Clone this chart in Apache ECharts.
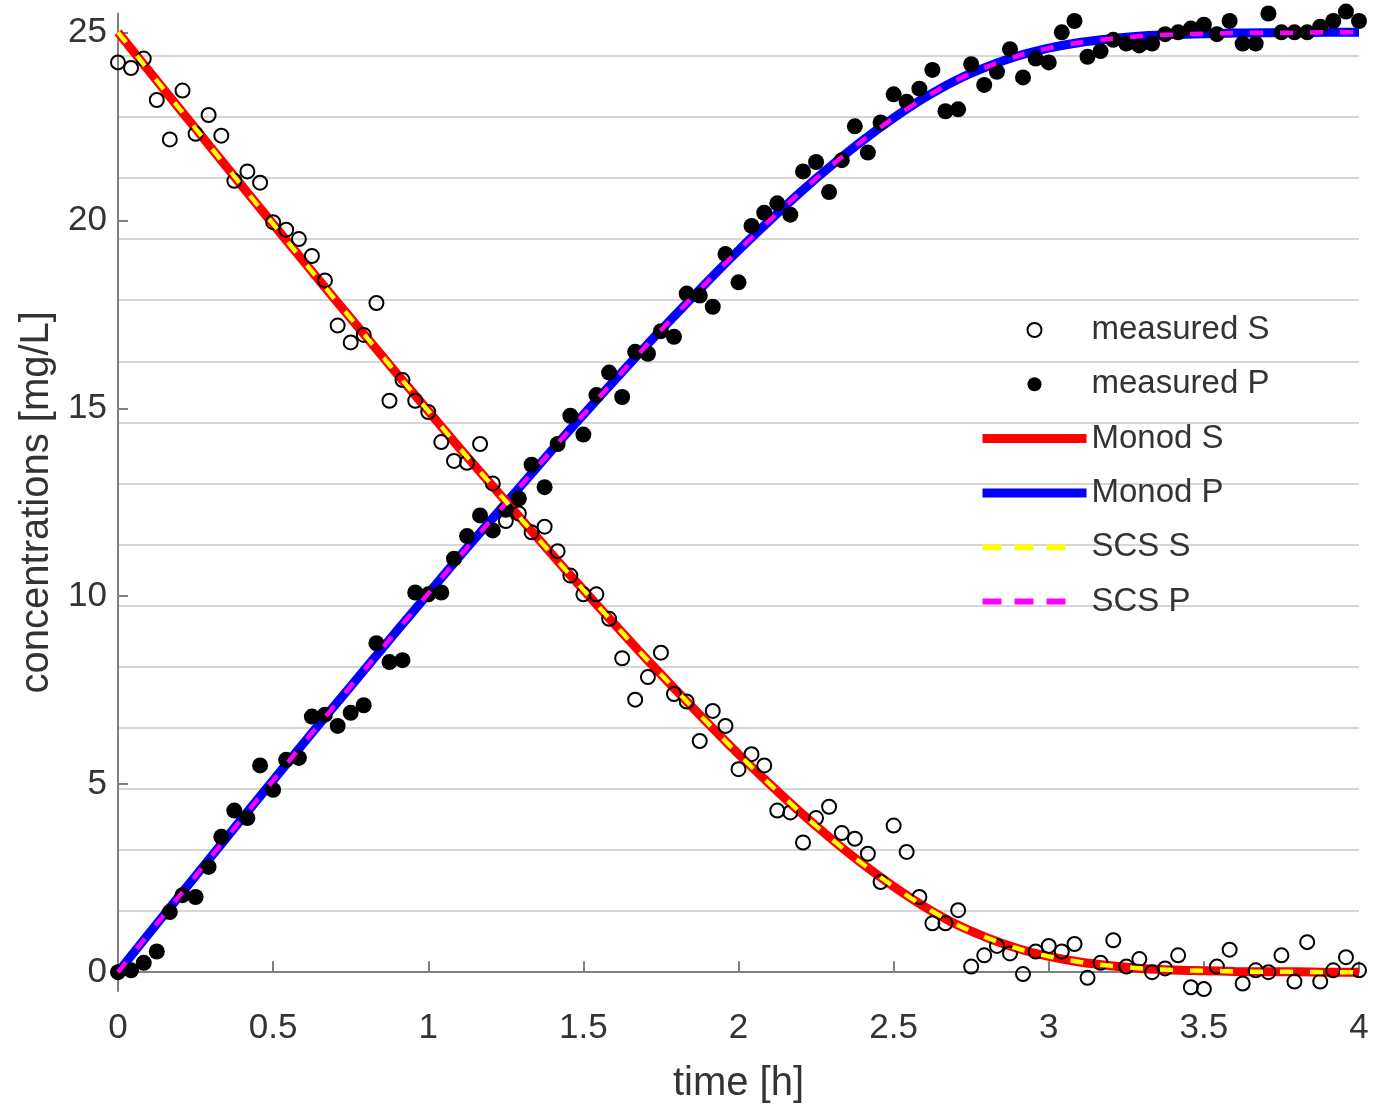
<!DOCTYPE html>
<html>
<head>
<meta charset="utf-8">
<script src="https://cdn.jsdelivr.net/npm/echarts@6/dist/echarts.min.js"></script>
<style>
html, body { margin: 0; padding: 0; background: #fff; }
#chart { width: 1373px; height: 1109px; }
</style>
</head>
<body>
<div id="chart"></div>
<script>
// measured samples, time in hours (every 2.5 min)
var tMeas = [0, 0.042, 0.083, 0.125, 0.167, 0.208, 0.25, 0.292, 0.333, 0.375, 0.417, 0.458,
    0.5, 0.542, 0.583, 0.625, 0.667, 0.708, 0.75, 0.792, 0.833, 0.875, 0.917, 0.958,
    1.0, 1.042, 1.083, 1.125, 1.167, 1.208, 1.25, 1.292, 1.333, 1.375, 1.417, 1.458,
    1.5, 1.542, 1.583, 1.625, 1.667, 1.708, 1.75, 1.792, 1.833, 1.875, 1.917, 1.958,
    2.0, 2.042, 2.083, 2.125, 2.167, 2.208, 2.25, 2.292, 2.333, 2.375, 2.417, 2.458,
    2.5, 2.542, 2.583, 2.625, 2.667, 2.708, 2.75, 2.792, 2.833, 2.875, 2.917, 2.958,
    3.0, 3.042, 3.083, 3.125, 3.167, 3.208, 3.25, 3.292, 3.333, 3.375, 3.417, 3.458,
    3.5, 3.542, 3.583, 3.625, 3.667, 3.708, 3.75, 3.792, 3.833, 3.875, 3.917, 3.958,
    4.0];

var sMeas = [24.2, 24.05, 24.3, 23.2, 22.15, 23.45, 22.3, 22.8, 22.25, 21.05, 21.3, 21.0,
    19.95, 19.75, 19.5, 19.05, 18.4, 17.2, 16.75, 16.95, 17.8, 15.2, 15.75, 15.2,
    14.9, 14.1, 13.6, 13.55, 14.05, 13.0, 12.0, 12.2, 11.7, 11.85, 11.2, 10.55,
    10.05, 10.05, 9.4, 8.35, 7.25, 7.85, 8.5, 7.4, 7.2, 6.15, 6.95, 6.55,
    5.4, 5.8, 5.5, 4.3, 4.25, 3.45, 4.1, 4.4, 3.7, 3.55, 3.15, 2.4,
    3.9, 3.2, 2.0, 1.3, 1.3, 1.65, 0.15, 0.45, 0.7, 0.5, -0.05, 0.55,
    0.7, 0.55, 0.75, -0.15, 0.25, 0.85, 0.15, 0.35, 0.0, 0.1, 0.45, -0.4,
    -0.45, 0.15, 0.6, -0.3, 0.05, 0.0, 0.45, -0.25, 0.8, -0.25, 0.05, 0.4,
    0.05];

var pMeas = [0.0, 0.05, 0.25, 0.55, 1.6, 2.05, 2.0, 2.8, 3.6, 4.3, 4.1, 5.5,
    4.85, 5.65, 5.7, 6.8, 6.85, 6.55, 6.9, 7.1, 8.75, 8.25, 8.3, 10.1,
    10.05, 10.1, 11.0, 11.6, 12.15, 11.75, 12.3, 12.6, 13.5, 12.9, 14.05, 14.8,
    14.3, 15.35, 15.95, 15.3, 16.5, 16.45, 17.05, 16.9, 18.05, 18.0, 17.7, 19.1,
    18.35, 19.85, 20.2, 20.45, 20.15, 21.3, 21.55, 20.75, 21.6, 22.5, 21.8, 22.6,
    23.35, 23.15, 23.5, 24.0, 22.9, 22.95, 24.15, 23.6, 23.95, 24.55, 23.8, 24.3,
    24.2, 25.0, 25.3, 24.35, 24.5, 24.8, 24.7, 24.65, 24.7, 24.95, 25.0, 25.1,
    25.2, 24.95, 25.3, 24.7, 24.7, 25.5, 25.0, 25.0, 25.0, 25.15, 25.3, 25.55,
    25.3];

// model curves
var tFit = [0, 0.1, 0.2, 0.3, 0.4, 0.5, 0.6, 0.7, 0.8, 0.9, 1.0, 1.1, 1.2, 1.3, 1.4,
    1.5, 1.6, 1.7, 1.8, 1.9, 2.0, 2.1, 2.2, 2.3, 2.4, 2.5, 2.6, 2.7, 2.8, 2.9,
    3.0, 3.1, 3.2, 3.3, 3.4, 3.5, 3.6, 3.7, 3.8, 3.9, 4.0];
var sMonod = [25, 23.97, 22.95, 21.93, 20.91, 19.9, 18.89, 17.89, 16.9, 15.91, 14.93,
    13.95, 13.0, 12.05, 11.1, 10.17, 9.26, 8.36, 7.49, 6.63, 5.8, 5.01, 4.25, 3.54,
    2.88, 2.28, 1.74, 1.28, 0.92, 0.63, 0.42, 0.27, 0.17, 0.1, 0.06, 0.04, 0.02,
    0.01, 0.01, 0.0, 0.0];
var pMonod = [0, 1.03, 2.05, 3.07, 4.09, 5.1, 6.11, 7.11, 8.1, 9.09, 10.07, 11.05,
    12.0, 12.95, 13.9, 14.83, 15.74, 16.64, 17.51, 18.37, 19.2, 19.99, 20.75, 21.46,
    22.12, 22.72, 23.26, 23.72, 24.08, 24.37, 24.58, 24.73, 24.83, 24.9, 24.94,
    24.96, 24.98, 24.99, 24.99, 25.0, 25.0];
var sScs = [25, 23.97, 22.95, 21.93, 20.91, 19.9, 18.89, 17.89, 16.9, 15.91, 14.93,
    13.95, 13.0, 12.05, 11.1, 10.17, 9.26, 8.36, 7.49, 6.63, 5.8, 5.01, 4.25, 3.54,
    2.88, 2.28, 1.74, 1.28, 0.92, 0.63, 0.42, 0.27, 0.17, 0.1, 0.06, 0.04, 0.02,
    0.01, 0.01, 0.0, 0.0];
var pScs = [0, 1.03, 2.05, 3.07, 4.09, 5.1, 6.11, 7.11, 8.1, 9.09, 10.07, 11.05,
    12.0, 12.95, 13.9, 14.83, 15.74, 16.64, 17.51, 18.37, 19.2, 19.99, 20.75, 21.46,
    22.12, 22.72, 23.26, 23.72, 24.08, 24.37, 24.58, 24.73, 24.83, 24.9, 24.94,
    24.96, 24.98, 24.99, 24.99, 25.0, 25.0];

var yTicks = [0, 5, 10, 15, 20, 25];
var gridStep = 1.625;   // spacing of the light horizontal lines

var FONT = "'Liberation Sans', Arial, sans-serif";
var TXT = '#333333';
var AX = '#808080';
var DASH = [13, 17];
var LEGEND_DASH = [19, 13, 19, 13, 19, 40];

function pairs(xs, ys) {
    return xs.map(function (x, i) { return [x, ys[i]]; });
}

function fitLine(name, xs, ys, color, width, dash, z) {
    return {
        name: name,
        type: 'line',
        data: pairs(xs, ys),
        smooth: 0.3,
        symbol: 'none',
        showSymbol: false,
        clip: false,
        z: z,
        lineStyle: { color: color, width: width, type: dash, cap: 'butt' },
        itemStyle: { color: color },
        emphasis: { disabled: true }
    };
}

var chart = echarts.init(document.getElementById('chart'));

var noMark = { opacity: 0 };

var option = {
    backgroundColor: '#ffffff',
    animation: false,
    grid: { left: 118, right: 14, top: 13.5, bottom: 118, containLabel: false },
    legend: {
        orient: 'vertical',
        left: 978,
        top: 313,
        padding: 0,
        itemWidth: 104,
        itemHeight: 14,
        itemGap: 20.3,
        selectedMode: false,
        textStyle: { fontSize: 33, color: TXT, fontFamily: FONT, lineHeight: 34 },
        data: [
            { name: 'measured S' },
            { name: 'measured P' },
            { name: 'Monod S', itemStyle: noMark, lineStyle: { width: 9 } },
            { name: 'Monod P', itemStyle: noMark, lineStyle: { width: 9 } },
            { name: 'SCS S', itemStyle: noMark, lineStyle: { width: 6, type: LEGEND_DASH } },
            { name: 'SCS P', itemStyle: noMark, lineStyle: { width: 6, type: LEGEND_DASH } }
        ]
    },
    xAxis: {
        type: 'value',
        min: 0,
        max: 4,
        interval: 0.5,
        name: 'time [h]',
        nameLocation: 'middle',
        nameGap: 73,
        nameTextStyle: { fontSize: 40, color: TXT, fontFamily: FONT },
        axisLine: { lineStyle: { color: AX, width: 2 } },
        axisTick: { inside: true, length: 11, lineStyle: { color: AX, width: 2 } },
        axisLabel: { fontSize: 35, color: TXT, fontFamily: FONT, margin: 20 },
        splitLine: { show: false }
    },
    yAxis: [
        {
            type: 'value',
            min: -0.5,
            max: 25.5,
            name: 'concentrations [mg/L]',
            nameLocation: 'middle',
            nameGap: 53,
            nameTextStyle: { fontSize: 40, color: TXT, fontFamily: FONT },
            axisLine: { lineStyle: { color: AX, width: 2 } },
            axisTick: { inside: true, length: 10, customValues: yTicks, lineStyle: { color: AX, width: 2 } },
            axisLabel: { fontSize: 35, color: TXT, fontFamily: FONT, margin: 11, customValues: yTicks },
            splitLine: { show: false }
        },
        {
            // hidden axis that only carries the light grid lines
            type: 'value',
            min: -0.5,
            max: 25.5,
            minInterval: gridStep,
            maxInterval: gridStep,
            position: 'left',
            axisLine: { show: false },
            axisTick: { show: false },
            axisLabel: { show: false },
            splitLine: {
                show: true,
                showMinLine: false,
                showMaxLine: false,
                lineStyle: { color: '#d6d6d6', width: 2 }
            }
        }
    ],
    series: [
        fitLine('Monod P', tFit, pMonod, '#0000ff', 9, 'solid', 2),
        fitLine('Monod S', tFit, sMonod, '#ff0000', 9, 'solid', 3),
        {
            name: 'measured S',
            type: 'scatter',
            data: pairs(tMeas, sMeas),
            symbol: 'circle',
            symbolSize: 14,
            clip: false,
            z: 4,
            itemStyle: { color: 'rgba(0,0,0,0)', borderColor: '#000000', borderWidth: 2, opacity: 1 },
            emphasis: { disabled: true }
        },
        {
            name: 'measured P',
            type: 'scatter',
            data: pairs(tMeas, pMeas),
            symbol: 'circle',
            symbolSize: 16,
            clip: false,
            z: 4,
            itemStyle: { color: '#000000', opacity: 1 },
            emphasis: { disabled: true }
        },
        fitLine('SCS P', tFit, pScs, '#ff00ff', 4.5, DASH, 5),
        fitLine('SCS S', tFit, sScs, '#ffff00', 4.5, DASH, 6)
    ]
};

chart.setOption(option);
</script>
</body>
</html>
